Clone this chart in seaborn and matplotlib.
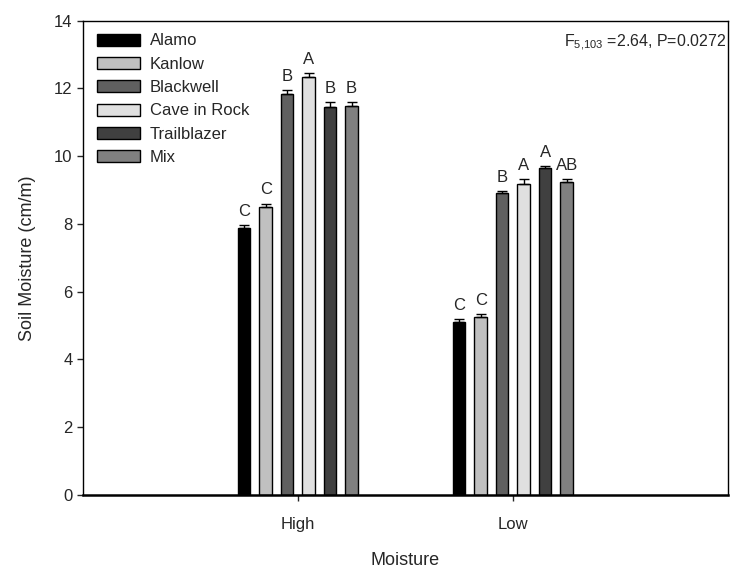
import numpy as np
import pandas as pd
import matplotlib
matplotlib.use("Agg")
import matplotlib.pyplot as plt
import seaborn as sns

# data
moisture_levels = ["High", "Low"]
cultivars = ["Alamo", "Kanlow", "Blackwell", "Cave in Rock", "Trailblazer", "Mix"]
high_means = [7.87, 8.49, 11.85, 12.34, 11.44, 11.47]
high_se = [0.09, 0.11, 0.10, 0.12, 0.16, 0.13]
low_means = [5.11, 5.26, 8.90, 9.19, 9.64, 9.24]
low_se = [0.07, 0.07, 0.08, 0.14, 0.07, 0.09]
high_letters = ["C", "C", "B", "A", "B", "B"]
low_letters = ["C", "C", "B", "A", "A", "AB"]
bar_colors = ["#000000", "#c0c0c0", "#606060", "#e0e0e0", "#404040", "#808080"]

df = pd.DataFrame({
    "Moisture": ["High"] * 6 + ["Low"] * 6,
    "Cultivar": cultivars * 2,
    "mean": high_means + low_means,
    "se": high_se + low_se,
    "letter": high_letters + low_letters,
})

sns.set_style("ticks")
plt.rcParams["font.family"] = ["Liberation Sans", "DejaVu Sans"]
plt.rcParams["mathtext.fontset"] = "custom"
plt.rcParams["mathtext.rm"] = "Liberation Sans"
plt.rcParams["mathtext.it"] = "Liberation Sans"

fig = plt.figure(figsize=(7.3, 5.7), dpi=100)
ax = fig.add_axes([0.1137, 0.1316, 0.8833, 0.8321])

sns.barplot(
    data=df, x="Moisture", y="mean", hue="Cultivar",
    order=moisture_levels, hue_order=cultivars,
    palette=bar_colors, errorbar=None, width=0.6, gap=0.42,
    edgecolor="black", linewidth=1.0, saturation=1, ax=ax,
)

# upper-only error bars and letters, placed from the bar patches
for cont, cult in zip(ax.containers, cultivars):
    for bar, lvl in zip(cont, moisture_levels):
        row = df[(df["Cultivar"] == cult) & (df["Moisture"] == lvl)].iloc[0]
        xc = bar.get_x() + bar.get_width() / 2
        ax.errorbar(xc, row["mean"], yerr=[[0], [row["se"]]], fmt="none",
                    ecolor="black", elinewidth=1.0, capsize=3.6, capthick=1.0)
        ax.annotate(row["letter"], (xc, row["mean"] + row["se"]),
                    xytext=(0, 4.5), textcoords="offset points",
                    ha="center", va="bottom", fontsize=12)

ax.set_xlim(-1, 2)
ax.set_ylim(0, 14)
ax.set_yticks(np.arange(0, 15, 2))
ax.tick_params(axis="both", labelsize=12, length=4, width=1, direction="out")
ax.tick_params(axis="x", pad=12)
for s in ax.spines.values():
    s.set_visible(True)
    s.set_color("black")
    s.set_linewidth(1.0)
ax.spines["bottom"].set_linewidth(1.8)

ax.set_xlabel("Moisture", fontsize=13, labelpad=14)
ax.set_ylabel("Soil Moisture (cm/m)", fontsize=13, labelpad=13)

ax.text(0.998, 0.975, r"F$_{5{,}103}$ =2.64, P=0.0272", transform=ax.transAxes,
        ha="right", va="top", fontsize=11.5)

handles, labels = ax.get_legend_handles_labels()
ax.legend(handles, labels, loc="upper left", bbox_to_anchor=(0.022, 0.973),
          frameon=False, fontsize=12, borderpad=0, borderaxespad=0,
          handlelength=2.55, handleheight=0.75, labelspacing=0.5,
          handletextpad=0.6)

fig.savefig("out.png", dpi=100)
